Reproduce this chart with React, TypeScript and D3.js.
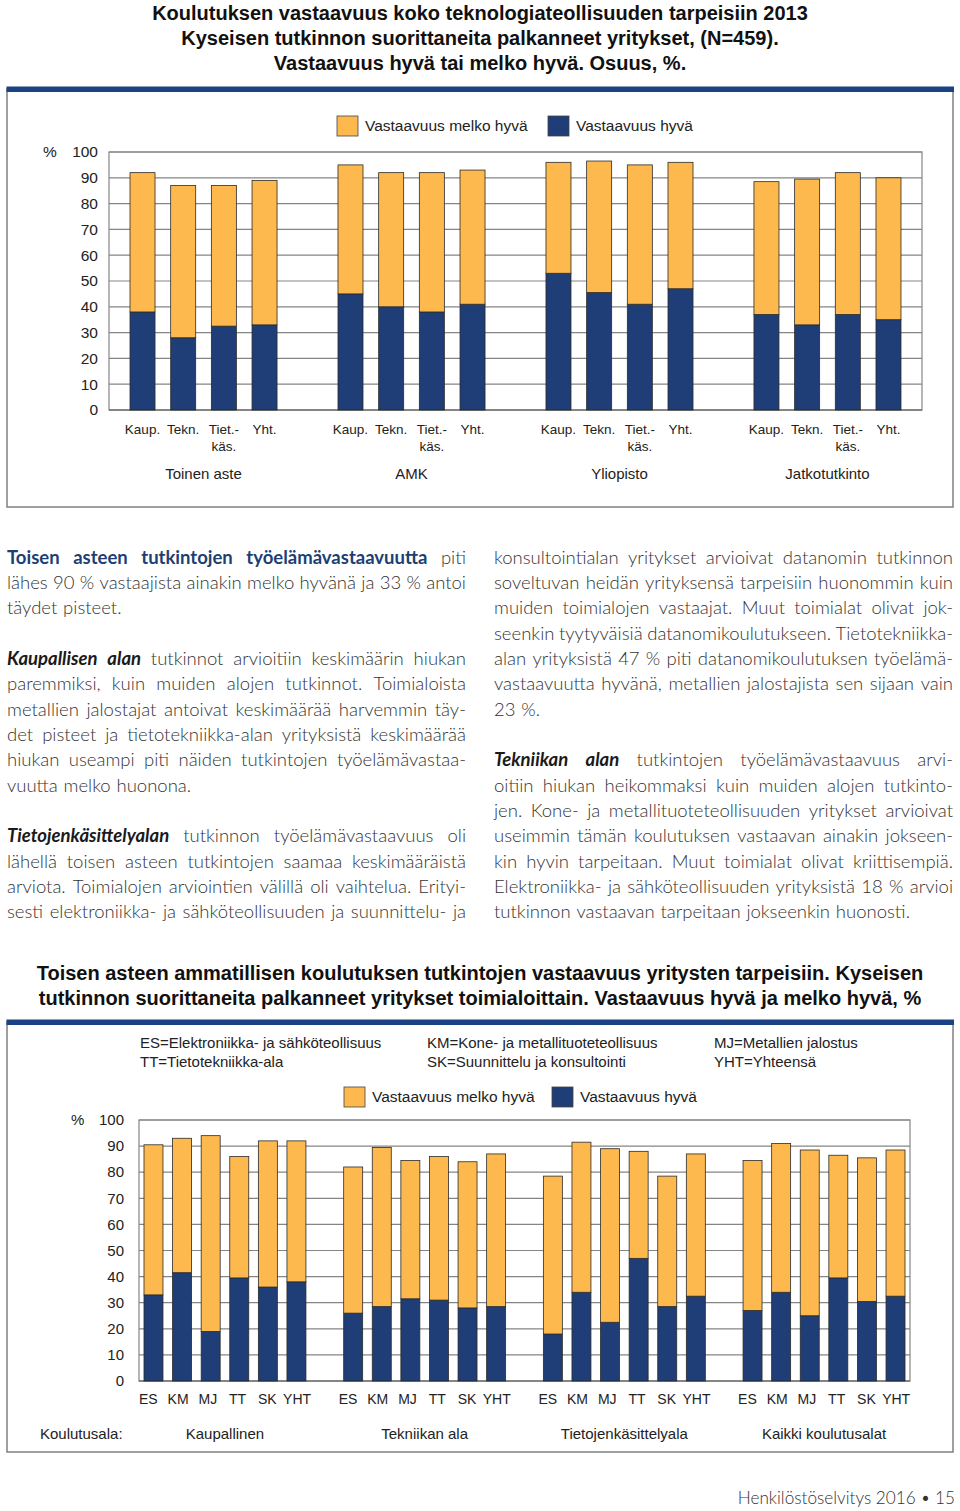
import React, { useEffect, useRef } from 'react';
import * as d3 from 'd3';

// --- chart 1: koko teknologiateollisuus 2013 ---
const topGroups = ['Toinen aste', 'AMK', 'Yliopisto', 'Jatkotutkinto'];
const topCategories = ['Kaup.', 'Tekn.', 'Tiet.-|käs.', 'Yht.'];
// Vastaavuus hyvä, %
const topGood = [38, 28, 32.5, 33, 45, 40, 38, 41, 53, 45.5, 41, 47, 37, 33, 37, 35];
// Vastaavuus melko hyvä, %
const topFair = [54, 59, 54.5, 56, 50, 52, 54, 52, 43, 51, 54, 49, 51.5, 56.5, 55, 55];

// --- chart 2: toisen asteen tutkinnot toimialoittain ---
const bottomGroups = ['Kaupallinen', 'Tekniikan ala', 'Tietojenkäsittelyala', 'Kaikki koulutusalat'];
const bottomCategories = ['ES', 'KM', 'MJ', 'TT', 'SK', 'YHT'];
const bottomGood = [
  33, 41.5, 19, 39.5, 36, 38,
  26, 28.5, 31.5, 31, 28, 28.5,
  18, 34, 22.5, 47, 28.5, 32.5,
  27, 34, 25, 39.5, 30.5, 32.5,
];
const bottomFair = [
  57.5, 51.5, 75, 46.5, 56, 54,
  56, 61, 53, 55, 56, 58.5,
  60.5, 57.5, 66.5, 41, 50, 54.5,
  57.5, 57, 63.5, 47, 55, 56,
];

const yTicks = [0, 10, 20, 30, 40, 50, 60, 70, 80, 90, 100];
const seriesKeys = ['good', 'fair'];
const legendLabels = ['Vastaavuus melko hyvä', 'Vastaavuus hyvä'];
const abbreviations = [
  ['ES=Elektroniikka- ja sähköteollisuus', 'TT=Tietotekniikka-ala'],
  ['KM=Kone- ja metallituoteteollisuus', 'SK=Suunnittelu ja konsultointi'],
  ['MJ=Metallien jalostus', 'YHT=Yhteensä'],
];

const topTitle = [
  'Koulutuksen vastaavuus koko teknologiateollisuuden tarpeisiin 2013',
  'Kyseisen tutkinnon suorittaneita palkanneet yritykset, (N=459).',
  'Vastaavuus hyvä tai melko hyvä. Osuus, %.',
];
const bottomTitle = [
  'Toisen asteen ammatillisen koulutuksen tutkintojen vastaavuus yritysten tarpeisiin. Kyseisen',
  'tutkinnon suorittaneita palkanneet yritykset toimialoittain. Vastaavuus hyvä ja melko hyvä, %',
];

// {..} = lihavoitu sininen, [..] = lihavoitu kursiivi, '' = tyhjä rivi
const leftLines = [
  '{Toisen asteen tutkintojen työelämävastaavuutta} piti',
  'lähes 90 % vastaajista ainakin melko hyvänä ja 33 % antoi',
  'täydet pisteet.',
  '',
  '[Kaupallisen alan] tutkinnot arvioitiin keskimäärin hiukan',
  'paremmiksi, kuin muiden alojen tutkinnot. Toimialoista',
  'metallien jalostajat antoivat keskimäärää harvemmin täy-',
  'det pisteet ja tietotekniikka-alan yrityksistä keskimäärää',
  'hiukan useampi piti näiden tutkintojen työelämävastaa-',
  'vuutta melko huonona.',
  '',
  '[Tietojenkäsittelyalan] tutkinnon työelämävastaavuus oli',
  'lähellä toisen asteen tutkintojen saamaa keskimääräistä',
  'arviota. Toimialojen arviointien välillä oli vaihtelua. Erityi-',
  'sesti elektroniikka- ja sähköteollisuuden ja suunnittelu- ja',
];
const rightLines = [
  'konsultointialan yritykset arvioivat datanomin tutkinnon',
  'soveltuvan heidän yrityksensä tarpeisiin huonommin kuin',
  'muiden toimialojen vastaajat. Muut toimialat olivat jok-',
  'seenkin tyytyväisiä datanomikoulutukseen. Tietotekniikka-',
  'alan yrityksistä 47 % piti datanomikoulutuksen työelämä-',
  'vastaavuutta hyvänä, metallien jalostajista sen sijaan vain',
  '23 %.',
  '',
  '[Tekniikan alan] tutkintojen työelämävastaavuus arvi-',
  'oitiin hiukan heikommaksi kuin muiden alojen tutkinto-',
  'jen. Kone- ja metallituoteteollisuuden yritykset arvioivat',
  'useimmin tämän koulutuksen vastaavan ainakin jokseen-',
  'kin hyvin tarpeitaan. Muut toimialat olivat kriittisempiä.',
  'Elektroniikka- ja sähköteollisuuden yrityksistä 18 % arvioi',
  'tutkinnon vastaavan tarpeitaan jokseenkin huonosti.',
];

const ORANGE = '#fdb94e';
const BLUE = '#1f3d76';
const RULE = '#1b4282';
const GRID = '#858585';
const ARIAL = '"Liberation Sans", Arial, sans-serif';
const BODY = 'Lato, "Open Sans", sans-serif';

type Sel = d3.Selection<SVGGElement, unknown, null, undefined>;

function drawFrame(g: Sel, top: number, bottom: number) {
  g.append('rect')
    .attr('x', 7).attr('y', top).attr('width', 946).attr('height', bottom - top)
    .attr('fill', '#fff').attr('stroke', '#808080').attr('stroke-width', 1.5);
  g.append('rect')
    .attr('x', 6.5).attr('y', top - 2.5).attr('width', 947.5).attr('height', 5.5)
    .attr('fill', RULE);
}

function drawLegend(g: Sel, x: number, y: number, x2: number) {
  const items = [
    { label: legendLabels[0], color: ORANGE, x },
    { label: legendLabels[1], color: BLUE, x: x2 },
  ];
  items.forEach(it => {
    g.append('rect')
      .attr('x', it.x).attr('y', y - 10).attr('width', 21).attr('height', 20)
      .attr('fill', it.color).attr('stroke', '#444').attr('stroke-width', 0.8);
    g.append('text')
      .attr('x', it.x + 28).attr('y', y).attr('dy', '0.35em')
      .attr('font-family', ARIAL).attr('font-size', 15.5).attr('fill', '#222')
      .text(it.label);
  });
}

interface ChartOpts {
  groups: string[];
  cats: string[];
  good: number[];
  fair: number[];
  x0: number; x1: number; yTop: number; yBottom: number;
  groupPadInner: number; groupPadOuter: number; barPad: number;
  tickX: number; tickSize: number; pctX: number;
  catY: number; catSize: number; labelSpread: [number, number];
  groupY: number;
}

function drawChart(g: Sel, o: ChartOpts) {
  const rows = o.groups.flatMap((grp, gi) =>
    o.cats.map((cat, ci) => {
      const i = gi * o.cats.length + ci;
      return { group: grp, cat, good: o.good[i], fair: o.fair[i] };
    })
  );
  const xGroup = d3.scaleBand<string>().domain(o.groups).range([o.x0, o.x1])
    .paddingInner(o.groupPadInner).paddingOuter(o.groupPadOuter);
  const xCat = d3.scaleBand<string>().domain(o.cats).range([0, xGroup.bandwidth()])
    .paddingInner(o.barPad).paddingOuter(0);
  // category labels sit on a slightly wider spread than the bars
  const xLabel = d3.scaleBand<string>().domain(o.cats)
    .range([o.labelSpread[0], xGroup.bandwidth() + o.labelSpread[1]])
    .paddingInner(o.barPad).paddingOuter(0);
  const y = d3.scaleLinear().domain([0, 100]).range([o.yBottom, o.yTop]);

  // grid
  g.append('g').selectAll('line').data(yTicks.slice(1)).join('line')
    .attr('x1', o.x0).attr('x2', o.x1)
    .attr('y1', d => y(d)).attr('y2', d => y(d))
    .attr('stroke', GRID).attr('stroke-width', 1.2);
  g.append('rect')
    .attr('x', o.x0).attr('y', o.yTop).attr('width', o.x1 - o.x0).attr('height', o.yBottom - o.yTop)
    .attr('fill', 'none').attr('stroke', GRID).attr('stroke-width', 1.2);
  g.append('line')
    .attr('x1', o.x0).attr('x2', o.x1).attr('y1', y(0)).attr('y2', y(0))
    .attr('stroke', '#555').attr('stroke-width', 1.2);

  // tick labels
  g.append('g').selectAll('text').data(yTicks).join('text')
    .attr('x', o.tickX).attr('y', d => y(d)).attr('dy', '0.35em')
    .attr('text-anchor', 'end').attr('font-family', ARIAL).attr('font-size', o.tickSize)
    .attr('fill', '#222').text(d => d);
  g.append('text')
    .attr('x', o.pctX).attr('y', y(100)).attr('dy', '0.35em')
    .attr('font-family', ARIAL).attr('font-size', o.tickSize).attr('fill', '#222').text('%');

  // stacked bars
  const stacked = d3.stack<any>().keys(seriesKeys)(rows);
  const colors: Record<string, string> = { good: BLUE, fair: ORANGE };
  stacked.forEach(series => {
    g.append('g').selectAll('rect').data(series).join('rect')
      .attr('x', d => (xGroup(d.data.group) as number) + (xCat(d.data.cat) as number))
      .attr('width', xCat.bandwidth())
      .attr('y', d => y(d[1]))
      .attr('height', d => y(d[0]) - y(d[1]))
      .attr('fill', colors[series.key])
      .attr('stroke', '#2b2b2b').attr('stroke-width', 0.8);
  });

  // category labels
  rows.forEach(r => {
    const cx = (xGroup(r.group) as number) + (xLabel(r.cat) as number) + xLabel.bandwidth() / 2;
    r.cat.split('|').forEach((line, li) => {
      g.append('text')
        .attr('x', cx).attr('y', o.catY + li * 16.4).attr('dy', '0.35em')
        .attr('text-anchor', 'middle').attr('font-family', ARIAL)
        .attr('font-size', o.catSize).attr('fill', '#222').text(line);
    });
  });

  // group labels
  g.append('g').selectAll('text').data(o.groups).join('text')
    .attr('x', d => (xGroup(d) as number) + xGroup.bandwidth() / 2)
    .attr('y', o.groupY).attr('dy', '0.35em')
    .attr('text-anchor', 'middle').attr('font-family', ARIAL).attr('font-size', 15)
    .attr('fill', '#222').text(d => d);
}

function drawTitle(g: Sel, lines: string[], y0: number, step: number) {
  lines.forEach((t, i) => {
    g.append('text')
      .attr('x', 480).attr('y', y0 + i * step).attr('dy', '0.35em')
      .attr('text-anchor', 'middle').attr('font-family', ARIAL)
      .attr('font-weight', 700).attr('font-size', 20).attr('fill', '#111')
      .text(t);
  });
}

type WordStyle = 'normal' | 'blue' | 'em';

function styleWord(sel: d3.Selection<SVGTextElement, unknown, null, undefined>, s: WordStyle) {
  sel.attr('font-family', BODY).attr('font-size', 18.5)
    .attr('font-weight', s === 'normal' ? 300 : 700)
    .attr('font-style', s === 'em' ? 'italic' : 'normal')
    .attr('fill', s === 'blue' ? '#1d3f73' : s === 'em' ? '#1a1a1a' : '#333');
}

function parseLine(line: string) {
  const out: { w: string; s: WordStyle }[] = [];
  let mode: WordStyle = 'normal';
  line.split(' ').forEach(raw => {
    let w = raw;
    if (w.startsWith('{')) { mode = 'blue'; w = w.slice(1); }
    if (w.startsWith('[')) { mode = 'em'; w = w.slice(1); }
    const s = mode;
    if (w.endsWith('}') || w.endsWith(']')) { w = w.slice(0, -1); mode = 'normal'; }
    out.push({ w, s });
  });
  return out;
}

function drawColumn(g: Sel, lines: string[], x0: number, width: number, lastEnds: boolean) {
  const meas = g.append('text').attr('visibility', 'hidden');
  const measure = (t: string, s: WordStyle) => {
    styleWord(meas, s);
    meas.text(t);
    return (meas.node() as SVGTextElement).getComputedTextLength();
  };
  const space = measure('a a', 'normal') - measure('aa', 'normal');

  lines.forEach((line, i) => {
    if (!line) return;
    const next = lines[i + 1];
    const justify = next === undefined ? !lastEnds : next !== '';
    const words = parseLine(line);
    const widths = words.map(w => measure(w.w, w.s));
    const total = d3.sum(widths);
    const gap = justify && words.length > 1 ? (width - total) / (words.length - 1) : space * 1.15;
    const baseline = 563.5 + i * 25.35;
    let x = x0;
    words.forEach((w, wi) => {
      const t = g.append('text').attr('x', x).attr('y', baseline);
      styleWord(t, w.s);
      t.text(w.w);
      x += widths[wi] + gap;
    });
  });
  meas.remove();
}

const App = () => {
  const ref = useRef<SVGSVGElement>(null);

  useEffect(() => {
    const svg = d3.select(ref.current as SVGSVGElement);
    svg.selectAll('*').remove();
    const root = svg.append('g') as unknown as Sel;

    root.append('rect').attr('width', 960).attr('height', 1511).attr('fill', '#fff');

    // --- yläkaavio ---
    drawTitle(root, topTitle, 13, 25);
    drawFrame(root, 89, 507);
    drawLegend(root, 337, 126, 548);
    drawChart(root, {
      groups: topGroups, cats: topCategories, good: topGood, fair: topFair,
      x0: 109, x1: 922, yTop: 152, yBottom: 410,
      groupPadInner: 0.293, groupPadOuter: 0.101, barPad: 0.385,
      tickX: 98, tickSize: 15.5, pctX: 43,
      catY: 429.5, catSize: 13.5, labelSpread: [0, 0],
      groupY: 473.5,
    });

    // --- teksti ---
    drawColumn(root, leftLines, 7, 459, false);
    drawColumn(root, rightLines, 494, 459, true);

    // --- alakaavio ---
    drawTitle(root, bottomTitle, 973, 25);
    drawFrame(root, 1022, 1452);
    abbreviations.forEach((col, ci) => {
      col.forEach((t, li) => {
        root.append('text')
          .attr('x', [140, 427, 714][ci]).attr('y', 1042.5 + li * 19.5).attr('dy', '0.35em')
          .attr('font-family', ARIAL).attr('font-size', 15).attr('fill', '#222').text(t);
      });
    });
    drawLegend(root, 344, 1097, 552);
    drawChart(root, {
      groups: bottomGroups, cats: bottomCategories, good: bottomGood, fair: bottomFair,
      x0: 139, x1: 910, yTop: 1120, yBottom: 1381,
      groupPadInner: 0.189, groupPadOuter: 0.025, barPad: 0.336,
      tickX: 124, tickSize: 15, pctX: 71,
      catY: 1399, catSize: 14, labelSpread: [-5.5, 1],
      groupY: 1434,
    });
    root.append('text')
      .attr('x', 40).attr('y', 1434).attr('dy', '0.35em')
      .attr('font-family', ARIAL).attr('font-size', 15).attr('fill', '#222').text('Koulutusala:');

    // --- alatunniste ---
    root.append('text')
      .attr('x', 955).attr('y', 1498).attr('dy', '0.35em').attr('text-anchor', 'end')
      .attr('font-family', BODY).attr('font-weight', 300).attr('font-size', 17.2).attr('fill', '#333')
      .text('Henkilöstöselvitys 2016 • 15');
  }, []);

  return (
    <div style={{ position: 'absolute', left: 0, top: 0 }}>
      <svg ref={ref} width={960} height={1511} style={{ display: 'block' }} />
    </div>
  );
};

export default App;
